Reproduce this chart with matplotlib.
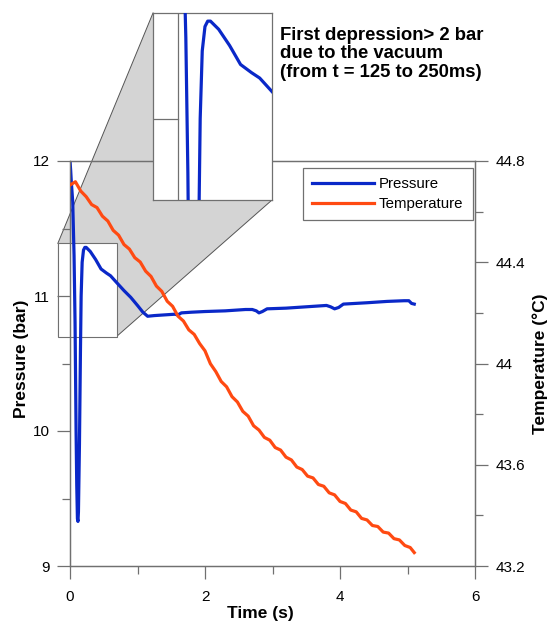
import matplotlib
matplotlib.use("Agg")
import matplotlib.pyplot as plt
from matplotlib.patches import Polygon, Rectangle
from matplotlib.ticker import MultipleLocator

plt.rcParams['font.family'] = ['Liberation Sans', 'DejaVu Sans']

# ---- data ----
time_p = [0.000, 0.010, 0.020, 0.040, 0.060, 0.075, 0.090, 0.100, 0.110, 0.118,
          0.125, 0.140, 0.155, 0.165, 0.180, 0.200, 0.220, 0.240, 0.300, 0.380,
          0.460, 0.540, 0.600, 0.690, 0.800, 0.900, 1.000, 1.080, 1.150, 1.250,
          1.400, 1.550, 1.600, 1.650, 1.800, 2.000, 2.300, 2.600, 2.700, 2.760,
          2.800, 2.850, 2.920, 3.200, 3.500, 3.800, 3.860, 3.920, 3.980, 4.050,
          4.400, 4.700, 4.950, 5.020, 5.060, 5.100]
pressure = [12.00, 11.93, 11.84, 11.70, 11.30, 10.80, 10.00, 9.60, 9.35, 9.33,
            9.40, 9.90, 10.60, 11.00, 11.25, 11.34, 11.36, 11.36, 11.33, 11.27,
            11.20, 11.17, 11.15, 11.10, 11.04, 10.99, 10.93, 10.88, 10.85, 10.855,
            10.86, 10.865, 10.86, 10.875, 10.88, 10.885, 10.89, 10.90, 10.90, 10.89,
            10.875, 10.885, 10.905, 10.91, 10.92, 10.93, 10.92, 10.905, 10.915, 10.94,
            10.95, 10.96, 10.965, 10.965, 10.945, 10.94]

time_t = [0.00, 0.08, 0.16, 0.24, 0.32, 0.40, 0.48, 0.56, 0.64, 0.72,
          0.80, 0.88, 0.96, 1.04, 1.12, 1.20, 1.28, 1.36, 1.44, 1.52,
          1.60, 1.68, 1.76, 1.84, 1.92, 2.00, 2.08, 2.16, 2.24, 2.32,
          2.40, 2.48, 2.56, 2.64, 2.72, 2.80, 2.88, 2.96, 3.04, 3.12,
          3.20, 3.28, 3.36, 3.44, 3.52, 3.60, 3.68, 3.76, 3.84, 3.92,
          4.00, 4.08, 4.16, 4.24, 4.32, 4.40, 4.48, 4.56, 4.64, 4.72,
          4.80, 4.88, 4.96, 5.04, 5.10]
temperature = [44.705, 44.718, 44.681, 44.659, 44.628, 44.616, 44.582, 44.563, 44.526, 44.507,
               44.470, 44.452, 44.418, 44.401, 44.365, 44.344, 44.306, 44.285, 44.246, 44.226,
               44.187, 44.168, 44.133, 44.115, 44.079, 44.050, 43.999, 43.968, 43.929, 43.908,
               43.869, 43.848, 43.811, 43.792, 43.754, 43.737, 43.708, 43.697, 43.668, 43.658,
               43.630, 43.619, 43.591, 43.581, 43.555, 43.548, 43.522, 43.515, 43.489, 43.481,
               43.455, 43.447, 43.421, 43.414, 43.388, 43.382, 43.360, 43.356, 43.334, 43.330,
               43.308, 43.303, 43.281, 43.273, 43.253]

temp_ticks = [43.2, 43.6, 44.0, 44.4, 44.8]
temp_labels = ['43.2', '43.6', '44', '44.4', '44.8']

zoom_x = [-0.18, 0.69]
zoom_y = [10.70, 11.39]

note = "First depression> 2 bar\ndue to the vacuum\n(from t = 125 to 250ms)"

BLUE = '#0a28c8'
ORANGE = '#ff4a12'
GREY = '#707070'

W, H = 549, 626
fig = plt.figure(figsize=(W / 100, H / 100), dpi=100)


def fig_box(x0, y0, x1, y1):
    # pixel box (top-left origin) -> figure fraction [left, bottom, width, height]
    return [x0 / W, 1 - y1 / H, (x1 - x0) / W, (y1 - y0) / H]


ax = fig.add_axes(fig_box(70, 161, 475, 566))
ax.set_facecolor('none')
ax2 = ax.twinx()
ax2.set_facecolor('none')

ax.set_xlim(0, 6)
ax.set_ylim(9, 12)
ax2.set_ylim(43.2, 44.8)

# zoom rectangle in data coords
ax.add_patch(Rectangle((zoom_x[0], zoom_y[0]), zoom_x[1] - zoom_x[0], zoom_y[1] - zoom_y[0],
                       facecolor='white', edgecolor=GREY, lw=0.8, zorder=0.5, clip_on=False))

lp, = ax.plot(time_p, pressure, color=BLUE, lw=2.3, zorder=3, label='Pressure')
lt, = ax2.plot(time_t, temperature, color=ORANGE, lw=2.3, zorder=3, label='Temperature')

for a in (ax, ax2):
    for s in a.spines.values():
        s.set_color(GREY)
        s.set_linewidth(0.9)
    a.tick_params(which='major', direction='out', length=9.5, width=0.9, color=GREY,
                  labelsize=11, pad=5)
    a.tick_params(which='minor', direction='out', length=5.5, width=0.9, color=GREY)
ax.tick_params(axis='x', pad=8)

ax.xaxis.set_major_locator(MultipleLocator(2))
ax.xaxis.set_minor_locator(MultipleLocator(1))
ax.yaxis.set_major_locator(MultipleLocator(1))
ax.yaxis.set_minor_locator(MultipleLocator(0.5))
ax2.yaxis.set_minor_locator(MultipleLocator(0.2))
ax2.set_yticks(temp_ticks)
ax2.set_yticklabels(temp_labels)

ax.set_xlabel('Time (s)', fontsize=12.5, fontweight='bold')
ax.set_ylabel('Pressure (bar)', fontsize=12.5, fontweight='bold')
ax2.set_ylabel('Temperature (°C)', fontsize=12.5, fontweight='bold')
ax.xaxis.set_label_coords(0.469, -0.098)
ax.yaxis.set_label_coords(-0.1, 0.511)
ax2.yaxis.set_label_coords(1.143, 0.499)

leg = ax2.legend([lp, lt], ['Pressure', 'Temperature'], loc='upper right',
                 bbox_to_anchor=(0.994, 0.982), borderaxespad=0, fontsize=10.8,
                 handlelength=4.1, handletextpad=0.35, labelspacing=0.4,
                 borderpad=0.6, fancybox=False, framealpha=1)
leg.get_frame().set_edgecolor(GREY)
leg.get_frame().set_linewidth(0.9)

# inset: magnified view of the rectangle
ins = fig.add_axes(fig_box(153, 13, 272, 200))
ins.set_xlim(*zoom_x)
ins.set_ylim(zoom_y[0], zoom_y[1])
ins.plot(time_p, pressure, color=BLUE, lw=2.3, zorder=3)
ins.axvline(0, color=GREY, lw=0.9, zorder=1)
ins.plot([zoom_x[0], 0], [11, 11], color=GREY, lw=0.9, zorder=1)
ins.set_xticks([])
ins.set_yticks([])
for s in ins.spines.values():
    s.set_color(GREY)
    s.set_linewidth(0.9)

# grey wedge joining rectangle and inset, in figure pixels
r0 = ax.transData.transform((zoom_x[0], zoom_y[1]))
r1 = ax.transData.transform((zoom_x[1], zoom_y[0]))
r2 = ax.transData.transform((zoom_x[0], zoom_y[0]))
i0 = ins.transAxes.transform((0, 1))
i1 = ins.transAxes.transform((1, 1))
i2 = ins.transAxes.transform((1, 0))
inv = fig.transFigure.inverted()
pts = inv.transform([r0, i0, i1, i2, r1, r2])
fig.patches.append(Polygon(pts, closed=True, facecolor='#d4d4d4', edgecolor='none',
                           transform=fig.transFigure, zorder=-1))
for a_, b_ in ((r0, i0), (r1, i2)):
    p = inv.transform([a_, b_])
    fig.lines.append(plt.Line2D(p[:, 0], p[:, 1], color='#555555', lw=0.7,
                                transform=fig.transFigure, zorder=-0.5))

fig.text(280 / W, 1 - 27 / H, note, fontsize=13.3, fontweight='bold', va='top',
         ha='left', linespacing=1.1)

fig.savefig('out.png', dpi=100, facecolor='white')
